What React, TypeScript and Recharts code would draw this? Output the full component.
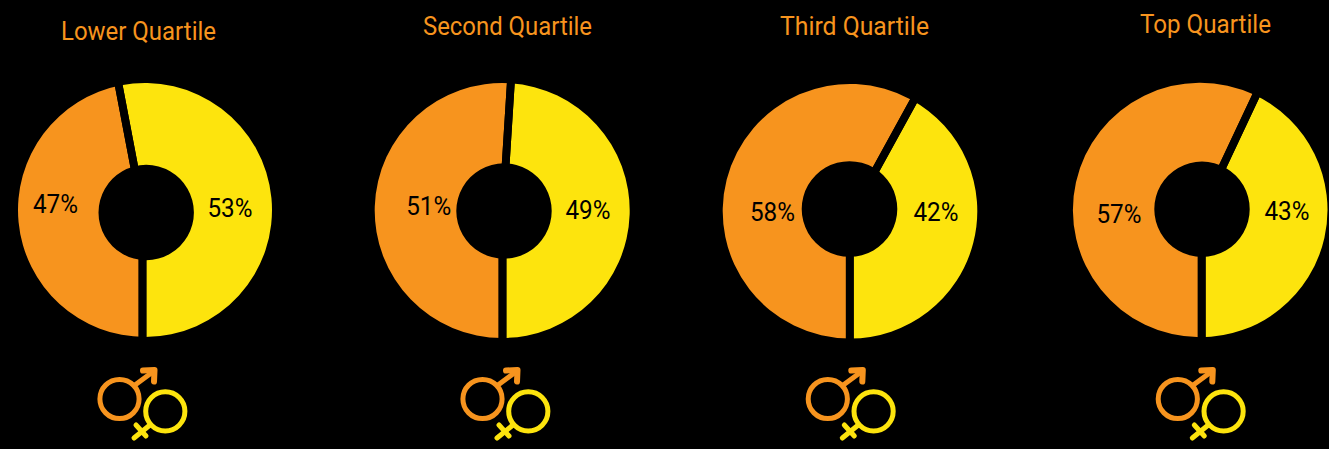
import React from "react";
import { PieChart, Pie, Cell } from "recharts";

const titles = ["Lower Quartile", "Second Quartile", "Third Quartile", "Top Quartile"];
const femaleShare = [53, 49, 42, 43];
const maleShare = [47, 51, 58, 57];
const groups = ["Female", "Male"];

const YELLOW = "#FDE40D";
const ORANGE = "#F7941E";
const FONT = "Roboto, sans-serif";

const panels = [
  { cx: 145, cy: 210, r: 127, hole: [146.2, 212.5, 47.7], apex: [142.5, 210], title: [138.5, 31, 155], female: [230, 208], male: [55.5, 204.5], sym: [0, 0] },
  { cx: 502.2, cy: 210.5, r: 127.5, hole: [504, 211, 47.7], apex: [502.5, 215], title: [507.5, 26, 169], female: [588, 210], male: [428.7, 206], sym: [363, 0] },
  { cx: 850, cy: 211.2, r: 127.3, hole: [849.5, 209, 47.8], apex: [849.8, 217], title: [854.5, 26, 149], female: [936, 212], male: [772.4, 212], sym: [708.3, 0] },
  { cx: 1200.2, cy: 210, r: 127.3, hole: [1202, 209.2, 47.7], apex: [1201.7, 211], title: [1205.5, 24, 131], female: [1287, 211], male: [1119, 214], sym: [1058.3, 0] },
];

const GAP = 7.8;
const PCT_WIDTH = 45;

function GenderSymbol({ dx, dy }: { dx: number; dy: number }) {
  const common = { fill: "none", strokeWidth: 5, strokeLinecap: "round" as const, strokeLinejoin: "round" as const };
  return (
    <g transform={`translate(${dx},${dy})`}>
      <g {...common} stroke={ORANGE}>
        <circle cx={119.5} cy={399} r={19.6} />
        <path d="M135 385 L154 371" />
        <path d="M143 370.5 L154.5 370 L154 381.5" strokeWidth={6} />
      </g>
      <g {...common} stroke={YELLOW}>
        <circle cx={165.3} cy={411.3} r={19.6} />
        <path d="M150 425 L134 438" />
        <path d="M136 425 L146 436" />
      </g>
    </g>
  );
}

export default function App() {
  return (
    <div style={{ position: "absolute", left: 0, top: 0, width: 1329, height: 449, background: "#000", overflow: "hidden" }}>
      <PieChart width={1329} height={449} margin={{ top: 0, right: 0, bottom: 0, left: 0 }}>
        {panels.map((p, i) => {
          const data = [
            { name: groups[0], value: femaleShare[i] },
            { name: groups[1], value: maleShare[i] },
          ];
          return (
            <Pie
              key={titles[i]}
              data={data}
              dataKey="value"
              nameKey="name"
              cx={p.cx}
              cy={p.cy}
              innerRadius={p.hole[2] - 8}
              outerRadius={p.r}
              startAngle={-90}
              endAngle={270}
              stroke="none"
              isAnimationActive={false}
              labelLine={false}
              label={(props: any) => {
                const pos = props.index === 0 ? p.female : p.male;
                return (
                  <text x={pos[0]} y={pos[1]} textAnchor="middle" dominantBaseline="central" fill="#000" fontFamily={FONT} fontWeight={400} fontSize={25} textLength={PCT_WIDTH} lengthAdjust="spacingAndGlyphs">
                    {props.value}%
                  </text>
                );
              }}
            >
              <Cell fill={YELLOW} />
              <Cell fill={ORANGE} />
            </Pie>
          );
        })}
        {panels.map((p, i) => {
          const data = [
            { name: groups[0], value: femaleShare[i] },
            { name: groups[1], value: maleShare[i] },
          ];
          return (
            <Pie
              key={titles[i] + "-gaps"}
              data={data}
              dataKey="value"
              cx={p.apex[0]}
              cy={p.apex[1]}
              innerRadius={p.hole[2] - 14}
              outerRadius={p.r + 14}
              startAngle={-90}
              endAngle={270}
              fill="none"
              stroke="#000"
              strokeWidth={GAP}
              isAnimationActive={false}
              legendType="none"
            >
              <Cell fill="none" />
              <Cell fill="none" />
            </Pie>
          );
        })}
        {panels.map((p, i) => (
          <Pie
            key={titles[i] + "-hole"}
            data={[{ value: 1 }]}
            dataKey="value"
            cx={p.hole[0]}
            cy={p.hole[1]}
            innerRadius={0}
            outerRadius={p.hole[2]}
            fill="#000"
            stroke="none"
            isAnimationActive={false}
            legendType="none"
          />
        ))}
        {panels.map((p, i) => (
          <text key={titles[i]} x={p.title[0]} y={p.title[1]} textAnchor="middle" dominantBaseline="central" fill={ORANGE} fontFamily={FONT} fontWeight={400} fontSize={25} textLength={p.title[2]} lengthAdjust="spacingAndGlyphs">
            {titles[i]}
          </text>
        ))}
        {panels.map((p, i) => (
          <GenderSymbol key={titles[i]} dx={p.sym[0]} dy={p.sym[1]} />
        ))}
      </PieChart>
    </div>
  );
}
